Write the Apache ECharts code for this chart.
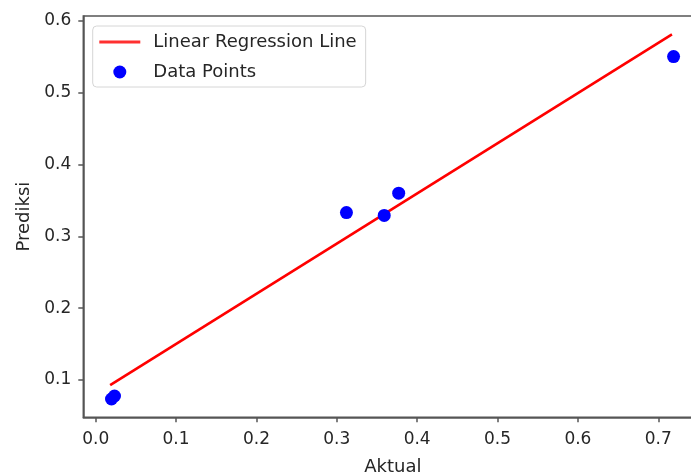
<!DOCTYPE html>
<html>
<head>
<meta charset="utf-8">
<script src="https://cdn.jsdelivr.net/npm/echarts@6/dist/echarts.min.js"></script>
<style>
html,body{margin:0;padding:0;background:#fff;}
#main{width:691px;height:472px;}
</style>
</head>
<body>
<div id="main"></div>
<script>
// Data
var actual = [0.0197, 0.0234, 0.312, 0.359, 0.377, 0.719];
var predicted = [0.0736, 0.0777, 0.333, 0.329, 0.360, 0.550];
var lineX = [0.018, 0.717];
var lineY = [0.093, 0.581];
var xTicks = [0, 0.1, 0.2, 0.3, 0.4, 0.5, 0.6, 0.7];
var yTicks = [0.1, 0.2, 0.3, 0.4, 0.5, 0.6];

var pointData = actual.map(function (v, i) { return [v, predicted[i]]; });
var lineData = lineX.map(function (v, i) { return [v, lineY[i]]; });

var FONT = 'DejaVu Sans';
var TXT = '#262626';
var AX = '#555';

var chart = echarts.init(document.getElementById('main'), null, {renderer: 'canvas'});
chart.setOption({
  animation: false,
  backgroundColor: '#fff',
  textStyle: {fontFamily: FONT},
  grid: {
    left: 83.3, top: 16, bottom: 54.7, right: -11.5,
    outerBoundsMode: 'none',
    show: true, borderColor: AX, borderWidth: 1.5, backgroundColor: 'transparent',
    containLabel: false
  },
  legend: {
    orient: 'vertical',
    left: 92.7, top: 26,
    padding: [7, 9, 6, 5],
    itemGap: 12,
    itemWidth: 41, itemHeight: 13,
    backgroundColor: 'rgba(255,255,255,0.8)',
    borderColor: '#d6d6d6', borderWidth: 1, borderRadius: 4,
    textStyle: {fontFamily: FONT, fontSize: 18, color: TXT, padding: [0, 0, 0, 8]},
    data: [
      {name: 'Linear Regression Line',
       itemStyle: {color: 'rgba(0,0,0,0)', borderWidth: 0, opacity: 0},
       lineStyle: {color: '#ff3030', width: 3.2}},
      {name: 'Data Points'}
    ]
  },
  xAxis: {
    type: 'value',
    min: -0.0154, max: 0.755,
    name: 'Aktual', nameLocation: 'middle', nameGap: 41,
    nameTextStyle: {fontFamily: FONT, fontSize: 18, color: TXT},
    axisLine: {show: true, onZero: false, lineStyle: {color: AX, width: 1.5}},
    axisTick: {show: true, length: 5, lineStyle: {color: AX, width: 1.5}, customValues: xTicks},
    axisLabel: {customValues: xTicks, margin: 14, fontFamily: FONT, fontSize: 17, color: TXT,
      formatter: function (v) { return v.toFixed(1); }},
    splitLine: {show: false}
  },
  yAxis: {
    type: 'value',
    min: 0.0481, max: 0.6065,
    name: 'Prediksi', nameLocation: 'middle', nameGap: 49, nameRotate: 90,
    nameTextStyle: {fontFamily: FONT, fontSize: 18, color: TXT},
    axisLine: {show: true, onZero: false, lineStyle: {color: AX, width: 1.5}},
    axisTick: {show: true, length: 5, lineStyle: {color: AX, width: 1.5}, customValues: yTicks},
    axisLabel: {customValues: yTicks, margin: 12, fontFamily: FONT, fontSize: 17, color: TXT,
      formatter: function (v) { return v.toFixed(1); }},
    splitLine: {show: false}
  },
  series: [
    {
      name: 'Linear Regression Line',
      type: 'line',
      data: lineData,
      symbol: 'none',
      lineStyle: {color: '#ff0000', width: 2.6},
      itemStyle: {color: '#ff0000'},
      z: 2
    },
    {
      name: 'Data Points',
      type: 'scatter',
      data: pointData,
      symbol: 'circle',
      symbolSize: 13,
      itemStyle: {color: '#0000ff', opacity: 1},
      z: 3
    }
  ]
});
</script>
</body>
</html>
